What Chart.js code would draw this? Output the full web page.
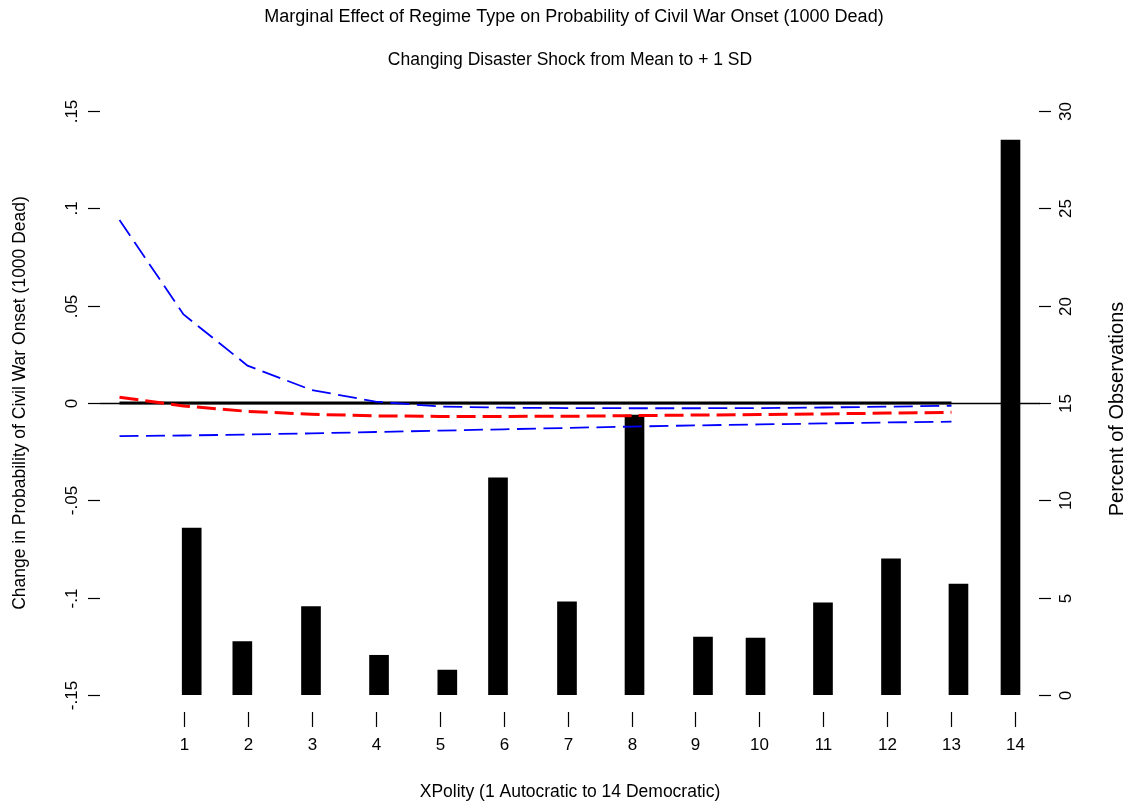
<!DOCTYPE html>
<html>
<head>
<meta charset="utf-8">
<title>Marginal Effect of Regime Type</title>
<script src="https://cdn.jsdelivr.net/npm/chart.js@4.4.1/dist/chart.umd.min.js"></script>
<style>
  html, body { margin: 0; padding: 0; background: #ffffff; }
  #wrap { width: 1130px; height: 805px; }
</style>
</head>
<body>
<div id="wrap"><canvas id="c" width="1130" height="805"></canvas></div>
<script>
// XPolity values at which the marginal effect was evaluated
const xPolity = [0, 1, 2, 3, 4, 5, 6, 7, 8, 9, 10, 11, 12, 13];
// Change in probability of civil war onset and its confidence bounds
const effect  = [0.0030, -0.0015, -0.0043, -0.0058, -0.0066, -0.0069, -0.0069, -0.0068, -0.0065, -0.0062, -0.0059, -0.0056, -0.0052, -0.0048];
const upperCI = [0.0940, 0.0455, 0.0192, 0.0067, 0.0007, -0.0018, -0.0024, -0.0026, -0.0027, -0.0027, -0.0026, -0.0023, -0.0019, -0.0014];
const lowerCI = [-0.0170, -0.0167, -0.0162, -0.0156, -0.0149, -0.0142, -0.0135, -0.0128, -0.0121, -0.0115, -0.0110, -0.0105, -0.0100, -0.0096];
const zeroRef = [0, 0, 0, 0, 0, 0, 0, 0, 0, 0, 0, 0, 0, 0];

// Histogram of observations: bin midpoints on the XPolity scale and percent of observations
const binMids = [1.128, 1.919, 2.992, 4.055, 5.122, 5.914, 6.992, 8.047, 9.117, 9.938, 10.992, 12.055, 13.109, 13.922];
const pctObs  = [8.58, 2.74, 4.54, 2.04, 1.28, 11.15, 4.78, 14.38, 2.98, 2.93, 4.73, 6.99, 5.70, 28.5];

// Axis ticks and their labels
const xTicks = [1, 2, 3, 4, 5, 6, 7, 8, 9, 10, 11, 12, 13, 14];
const leftTicks = [-0.15, -0.1, -0.05, 0, 0.05, 0.1, 0.15];
const leftTickLabels = ['-.15', '-.1', '-.05', '0', '.05', '.1', '.15'];
const rightTicks = [0, 5, 10, 15, 20, 25, 30];
const rightTickLabels = ['0', '5', '10', '15', '20', '25', '30'];

const titleMain = 'Marginal Effect of Regime Type on Probability of Civil War Onset (1000 Dead)';
const titleSub = 'Changing Disaster Shock from Mean to + 1 SD';
const xTitle = 'XPolity (1 Autocratic to 14 Democratic)';
const yLeftTitle = 'Change in Probability of Civil War Onset (1000 Dead)';
const yRightTitle = 'Percent of Observations';

const FONT = '"Liberation Sans", Arial, Helvetica, sans-serif';

function pts(ys) {
  return xPolity.map((x, i) => ({ x: x, y: ys[i] }));
}

// Axes, titles and the horizontal reference line, drawn in base-graphics style
const rAxes = {
  id: 'rAxes',
  beforeDatasetsDraw(chart) {
    const ctx = chart.ctx, a = chart.chartArea, yL = chart.scales.yL;
    const y0 = Math.round(yL.getPixelForValue(0)) + 0.5;
    ctx.save();
    ctx.strokeStyle = '#000';
    ctx.lineWidth = 1.5;
    ctx.beginPath();
    ctx.moveTo(a.left, y0);
    ctx.lineTo(a.right, y0);
    ctx.stroke();
    ctx.restore();
  },
  afterDraw(chart) {
    const ctx = chart.ctx, a = chart.chartArea;
    const xs = chart.scales.x, yL = chart.scales.yL, yR = chart.scales.yR;
    ctx.save();
    ctx.fillStyle = '#000';
    ctx.strokeStyle = '#000';
    ctx.lineWidth = 1.2;
    const cx = (a.left + a.right) / 2;
    const cy = (a.top + a.bottom) / 2;
    ctx.textAlign = 'center';
    ctx.textBaseline = 'middle';

    // titles
    ctx.font = '18px ' + FONT;
    ctx.fillText(titleMain, cx + 4, 17);
    ctx.font = '17.5px ' + FONT;
    ctx.fillText(titleSub, cx, 60);
    ctx.fillText(xTitle, cx, 792);

    // bottom axis
    ctx.font = '17px ' + FONT;
    xTicks.forEach(v => {
      const px = Math.round(xs.getPixelForValue(v)) + 0.5;
      ctx.beginPath();
      ctx.moveTo(px, 712);
      ctx.lineTo(px, 727);
      ctx.stroke();
      ctx.fillText(String(v), px, 745);
    });

    // left axis
    leftTicks.forEach((v, i) => {
      const py = Math.round(yL.getPixelForValue(v)) + 0.5;
      ctx.beginPath();
      ctx.moveTo(88, py);
      ctx.lineTo(a.left, py);
      ctx.stroke();
      ctx.save();
      ctx.translate(72, py);
      ctx.rotate(-Math.PI / 2);
      ctx.fillText(leftTickLabels[i], 0, 0);
      ctx.restore();
    });

    // right axis
    rightTicks.forEach((v, i) => {
      const py = Math.round(yR.getPixelForValue(v)) + 0.5;
      ctx.beginPath();
      ctx.moveTo(1039, py);
      ctx.lineTo(1051, py);
      ctx.stroke();
      ctx.save();
      ctx.translate(1066, py);
      ctx.rotate(-Math.PI / 2);
      ctx.fillText(rightTickLabels[i], 0, 0);
      ctx.restore();
    });

    // axis titles
    ctx.save();
    ctx.font = '17.5px ' + FONT;
    ctx.translate(20, cy);
    ctx.rotate(-Math.PI / 2);
    ctx.fillText(yLeftTitle, 0, 0);
    ctx.restore();

    ctx.save();
    ctx.font = '20px ' + FONT;
    ctx.translate(1117, cy + 6);
    ctx.rotate(-Math.PI / 2);
    ctx.fillText(yRightTitle, 0, 0);
    ctx.restore();

    ctx.restore();
  }
};

new Chart(document.getElementById('c'), {
  type: 'line',
  data: {
    datasets: [
      {
        type: 'bar',
        data: binMids.map((x, i) => ({ x: x, y: pctObs[i] })),
        yAxisID: 'yR',
        backgroundColor: '#000000',
        borderWidth: 0,
        barThickness: 19,
        order: 5
      },
      {
        data: pts(zeroRef),
        yAxisID: 'yL',
        borderColor: '#000000',
        borderWidth: 3,
        pointRadius: 0,
        tension: 0,
        order: 4
      },
      {
        data: pts(upperCI),
        yAxisID: 'yL',
        borderColor: '#0000ff',
        borderWidth: 1.8,
        borderDash: [19, 7.5],
        pointRadius: 0,
        tension: 0,
        order: 3
      },
      {
        data: pts(lowerCI),
        yAxisID: 'yL',
        borderColor: '#0000ff',
        borderWidth: 1.8,
        borderDash: [19, 7.5],
        pointRadius: 0,
        tension: 0,
        order: 2
      },
      {
        data: pts(effect),
        yAxisID: 'yL',
        borderColor: '#ff0000',
        borderWidth: 3,
        borderDash: [19, 7],
        pointRadius: 0,
        tension: 0,
        order: 1
      }
    ]
  },
  options: {
    responsive: false,
    devicePixelRatio: 1,
    animation: false,
    events: [],
    layout: { padding: { left: 100, right: 90, top: 111, bottom: 110 } },
    plugins: {
      legend: { display: false },
      tooltip: { enabled: false },
      title: { display: false }
    },
    scales: {
      x: { type: 'linear', min: -0.305, max: 14.383, offset: false, display: false },
      yL: { type: 'linear', position: 'left', min: -0.15, max: 0.15, display: false },
      yR: { type: 'linear', position: 'right', min: 0, max: 30, display: false }
    }
  },
  plugins: [rAxes]
});
</script>
</body>
</html>
